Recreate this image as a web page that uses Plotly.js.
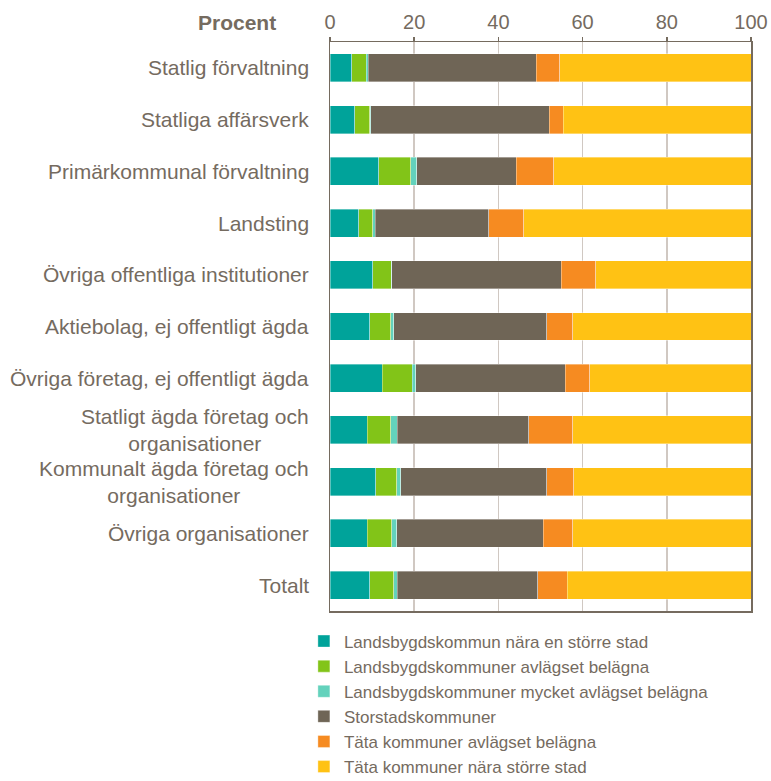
<!DOCTYPE html>
<html>
<head>
<meta charset="utf-8">
<script src="https://cdn.plot.ly/plotly-3.0.1.min.js"></script>
<style>
  html, body { margin: 0; padding: 0; background: #ffffff; }
  #chart { width: 771px; height: 781px; }
</style>
</head>
<body>
<div id="chart"></div>
<script>
// Categories (top to bottom)
const categories = [
  "Statlig förvaltning",
  "Statliga affärsverk",
  "Primärkommunal förvaltning",
  "Landsting",
  "Övriga offentliga institutioner",
  "Aktiebolag, ej offentligt ägda",
  "Övriga företag, ej offentligt ägda",
  "Statligt ägda företag och organisationer",
  "Kommunalt ägda företag och organisationer",
  "Övriga organisationer",
  "Totalt"
];
const categoryLabels = [
  "Statlig förvaltning",
  "Statliga affärsverk",
  "Primärkommunal förvaltning",
  "Landsting",
  "Övriga offentliga institutioner",
  "Aktiebolag, ej offentligt ägda",
  "Övriga företag, ej offentligt ägda",
  "Statligt ägda företag och<br>organisationer",
  "Kommunalt ägda företag och<br>organisationer",
  "Övriga organisationer",
  "Totalt"
];

// Series names
const seriesNames = [
  "Landsbygdskommun nära en större stad",
  "Landsbygdskommuner avlägset belägna",
  "Landsbygdskommuner mycket avlägset belägna",
  "Storstadskommuner",
  "Täta kommuner avlägset belägna",
  "Täta kommuner nära större stad"
];

// Series values (percent)
const landsbygdNara      = [5.2, 5.9, 11.6, 6.8, 10.1, 9.4, 12.4, 8.8, 10.9, 8.8, 9.4];
const landsbygdAvlagset  = [3.4, 3.6, 7.6, 3.3, 4.5, 5.0, 7.1, 5.6, 4.9, 5.9, 5.7];
const landsbygdMycket    = [0.5, 0.2, 1.4, 0.6, 0.1, 0.7, 0.9, 1.6, 1.0, 1.2, 0.9];
const storstad           = [39.9, 42.4, 23.6, 27.0, 40.2, 36.4, 35.5, 31.2, 34.7, 34.7, 33.4];
const tataAvlagset       = [5.6, 3.3, 9.0, 8.3, 8.2, 6.2, 5.8, 10.5, 6.4, 7.1, 6.9];
const tataNara           = [45.4, 44.6, 46.8, 54.0, 36.9, 42.3, 38.3, 42.3, 42.1, 42.3, 43.7];

// Tick values for x axis
const xTicks = [0, 20, 40, 60, 80, 100];

const seriesValues = [landsbygdNara, landsbygdAvlagset, landsbygdMycket, storstad, tataAvlagset, tataNara];
const colors = ["#00A39A", "#82C418", "#63D2BC", "#6F6556", "#F68B21", "#FFC214"];

const textColor = "#756B5F";
const fontFamily = "Liberation Sans, Arial, sans-serif";

const traces = seriesValues.map((vals, i) => ({
  type: "bar",
  orientation: "h",
  name: seriesNames[i],
  y: categories,
  x: vals,
  marker: { color: colors[i], line: { color: "rgba(255,255,255,0.6)", width: 0.6 } },
  hoverinfo: "x+name"
}));

const annotations = categories.map((c, i) => ({
  xref: "paper", yref: "y",
  x: 0, y: c,
  xanchor: "right", yanchor: "middle",
  xshift: -19,
  align: "center",
  text: categoryLabels[i],
  showarrow: false,
  font: { family: fontFamily, size: 21, color: textColor }
}));
annotations.push({
  xref: "paper", yref: "paper",
  x: 0, y: 1,
  xanchor: "right", yanchor: "bottom",
  xshift: -52, yshift: 6,
  text: "<b>Procent</b>",
  showarrow: false,
  font: { family: fontFamily, size: 21, color: textColor }
});

const layout = {
  width: 771,
  height: 781,
  margin: { l: 330, r: 20, t: 42, b: 170, pad: 0, autoexpand: false },
  paper_bgcolor: "#ffffff",
  plot_bgcolor: "#ffffff",
  barmode: "stack",
  bargap: 0.46,
  font: { family: fontFamily, color: textColor },
  showlegend: true,
  legend: {
    orientation: "v",
    traceorder: "normal",
    x: -0.062, y: -0.022,
    xanchor: "left", yanchor: "top",
    font: { family: fontFamily, size: 17, color: textColor },
    bgcolor: "rgba(0,0,0,0)",
    itemclick: false
  },
  xaxis: {
    side: "top",
    range: [0, 100],
    tickvals: xTicks,
    ticktext: xTicks.map(String),
    ticks: "outside",
    ticklen: 4,
    tickcolor: "#756B5F",
    tickwidth: 1.5,
    showgrid: true,
    gridcolor: "#D0C8C2",
    gridwidth: 1.5,
    showline: true,
    linecolor: "#756B5F",
    linewidth: 1.5,
    mirror: true,
    zeroline: false,
    tickfont: { family: fontFamily, size: 20, color: textColor },
    fixedrange: true
  },
  yaxis: {
    type: "category",
    categoryorder: "array",
    categoryarray: categories,
    autorange: "reversed",
    showticklabels: false,
    ticks: "",
    showgrid: false,
    showline: true,
    linecolor: "#756B5F",
    linewidth: 1.5,
    mirror: true,
    zeroline: false,
    fixedrange: true
  },
  annotations: annotations
};

Plotly.newPlot("chart", traces, layout, { displayModeBar: false, staticPlot: true });
</script>
</body>
</html>
